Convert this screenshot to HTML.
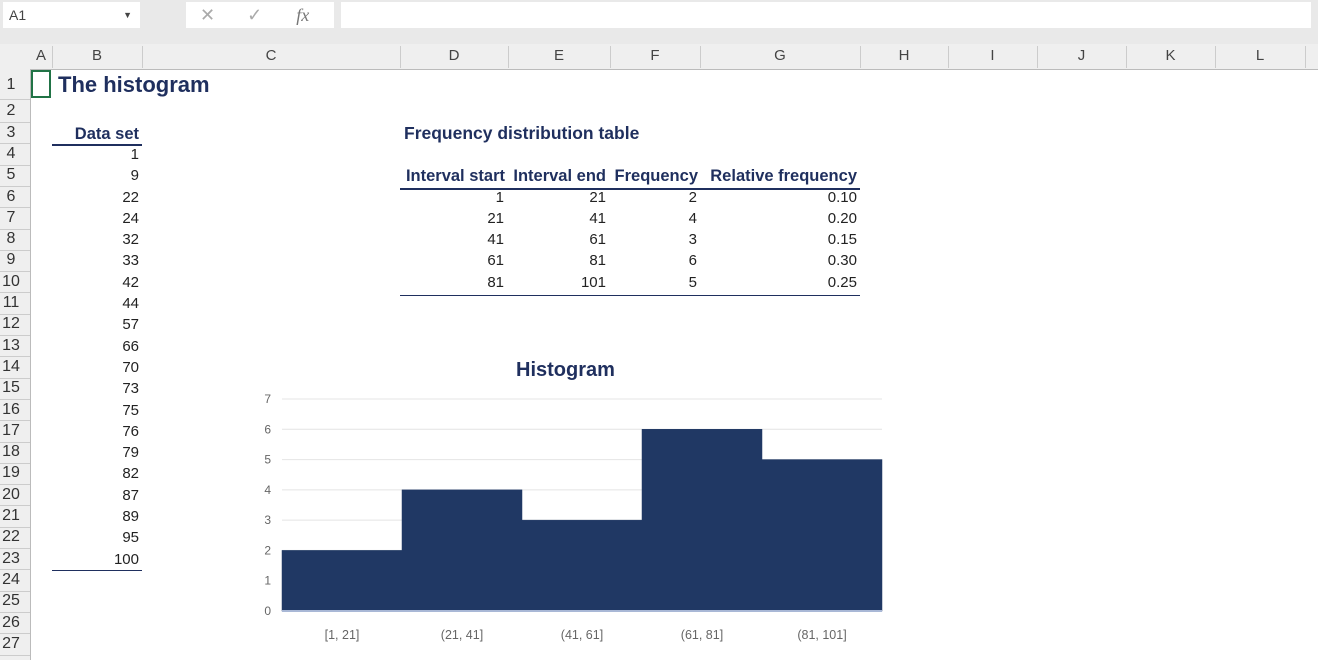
<!DOCTYPE html>
<html><head><meta charset="utf-8"><style>
body{margin:0;width:1318px;height:660px;overflow:hidden;background:#fff;font-family:"Liberation Sans",sans-serif;position:relative}
.a{position:absolute}
.cell{position:absolute;font-size:15px;color:#222;white-space:nowrap}
.hdr{position:absolute;font-size:15px;color:#444;text-align:center}
.b{font-weight:bold;color:#1f2f5e;font-size:16.5px}
</style></head><body>
<div class="a" style="left:0;top:0;width:1318px;height:44px;background:#e9e9e9"></div>
<div class="a" style="left:3px;top:2px;width:137px;height:26px;background:#fff;font-size:14px;color:#444;line-height:26px;padding-left:6px;box-sizing:border-box">A1<span style="position:absolute;right:8px;font-size:9px">▼</span></div>
<div class="a" style="left:186px;top:2px;width:148px;height:26px;background:#fff;color:#aaa;font-size:18px;line-height:26px"><span style="margin-left:14px">✕</span><span style="margin-left:32px">✓</span><span style="margin-left:34px;font-style:italic;font-family:'Liberation Serif',serif;color:#777">fx</span></div>
<div class="a" style="left:341px;top:2px;width:970px;height:26px;background:#fff"></div>
<div class="a" style="left:0;top:44px;width:1318px;height:25px;background:#efefef;border-bottom:1px solid #bbb"></div>
<div class="a" style="left:0;top:69px;width:30px;height:591px;background:#efefef;border-right:1px solid #bbb"></div>
<div class="a" style="left:31px;top:70px;width:20px;height:28px;border:2px solid #217346;box-sizing:border-box"></div>
<div id="g"></div>
<div class="cell b" style="left:58px;top:72px;font-size:22px">The histogram</div>
<div class="cell b" style="left:404px;top:123px;font-size:17.5px">Frequency distribution table</div>
<div class="cell b" style="left:516px;top:359px;font-size:20px">Histogram</div>
<svg id="chart" class="a" style="left:250px;top:385px" width="640" height="275"></svg>
<script>
const cols=[["A",30,52],["B",52,142],["C",142,400],["D",400,508],["E",508,610],["F",610,700],["G",700,860],["H",860,948],["I",948,1037],["J",1037,1126],["K",1126,1215],["L",1215,1305]];
const g=document.getElementById('g');
function rowTop(n){return n==1?70:n==2?99:122+(n-3)*21.3;}
function rowH(n){return n==1?29:n==2?23:21.3;}
cols.forEach(c=>{const d=document.createElement('div');d.className='hdr';d.style.left=c[1]+'px';d.style.width=(c[2]-c[1])+'px';d.style.top='47px';d.textContent=c[0];


g.appendChild(d);
const l=document.createElement('div');l.className='a';l.style.cssText=`left:${c[2]}px;top:46px;width:1px;height:22px;background:#ccc`;g.appendChild(l);});
for(let n=1;n<=27;n++){const d=document.createElement('div');d.className='hdr';d.style.cssText=`left:0;width:22px;top:${rowTop(n)+rowH(n)/2-9}px;font-size:16px;color:#333`;d.textContent=n;


g.appendChild(d);
const l=document.createElement('div');l.className='a';l.style.cssText=`left:0;top:${rowTop(n)+rowH(n)}px;width:30px;height:1px;background:#ccc`;g.appendChild(l);}
function cell(txt,right,row,bold,name){const d=document.createElement('div');d.className='cell'+(bold?' b':'');d.style.right=(1318-right)+'px';d.style.top=(rowTop(row)+rowH(row)/2-8)+'px';d.textContent=txt;


g.appendChild(d);}
function hline(x1,x2,y,w){const l=document.createElement('div');l.className='a';l.style.cssText=`left:${x1}px;top:${y}px;width:${x2-x1}px;height:${w}px;background:#1f2f5e`;g.appendChild(l);}
const dataSet=[1,9,22,24,32,33,42,44,57,66,70,73,75,76,79,82,87,89,95,100];
cell("Data set",139,3,true,"data-set-header");hline(52,142,144,2);
dataSet.forEach((v,i)=>cell(v,139,4+i,false,"data-value"));hline(52,142,570,1);
const starts=[1,21,41,61,81],ends=[21,41,61,81,101],freqs=[2,4,3,6,5],rel=["0.10","0.20","0.15","0.30","0.25"];
const hdrs=[["Interval start",505],["Interval end",606],["Frequency",698],["Relative frequency",857]];
hdrs.forEach(h=>cell(h[0],h[1],5,true,"table-header"));hline(400,860,188,2);
for(let i=0;i<5;i++){cell(starts[i],504,6+i,false,"interval-start");cell(ends[i],606,6+i,false,"interval-end");cell(freqs[i],697,6+i,false,"frequency");cell(rel[i],857,6+i,false,"relative-frequency");}
hline(400,860,295,1);
const svg=document.getElementById('chart'),NS='http://www.w3.org/2000/svg';
const cats=["[1, 21]","(21, 41]","(41, 61]","(61, 81]","(81, 101]"];
const yTicks=[0,1,2,3,4,5,6,7];
const x0=32,x1=632,yBase=226,yMax=7,plotH=212;
const ys=v=>yBase-v/yMax*plotH, bw=(x1-x0)/cats.length, xs=i=>x0+i*bw;
function el(t,a){const e=document.createElementNS(NS,t);for(const k in a)e.setAttribute(k,a[k]);svg.appendChild(e);return e;}
yTicks.forEach(t=>{const l=el('line',{x1:x0,x2:x1,y1:ys(t),y2:ys(t),stroke:'#e4e4e4'});


const tx=el('text',{x:x0-11,y:ys(t)+4,'text-anchor':'end','font-size':12,fill:'#666','font-family':'Liberation Sans'});tx.textContent=t;

});
freqs.forEach((v,i)=>{const r=el('rect',{x:xs(i),y:ys(v),width:bw,height:yBase-ys(v),fill:'#203864',stroke:'#203864','stroke-width':0.5});


const tx=el('text',{x:xs(i)+bw/2,y:yBase+28,'text-anchor':'middle','font-size':12.5,fill:'#666','font-family':'Liberation Sans'});tx.textContent=cats[i];

});
const ax=el('line',{x1:x0,x2:x1,y1:yBase,y2:yBase,stroke:'#a9b8d6','stroke-width':2});


</script>
</body></html>
